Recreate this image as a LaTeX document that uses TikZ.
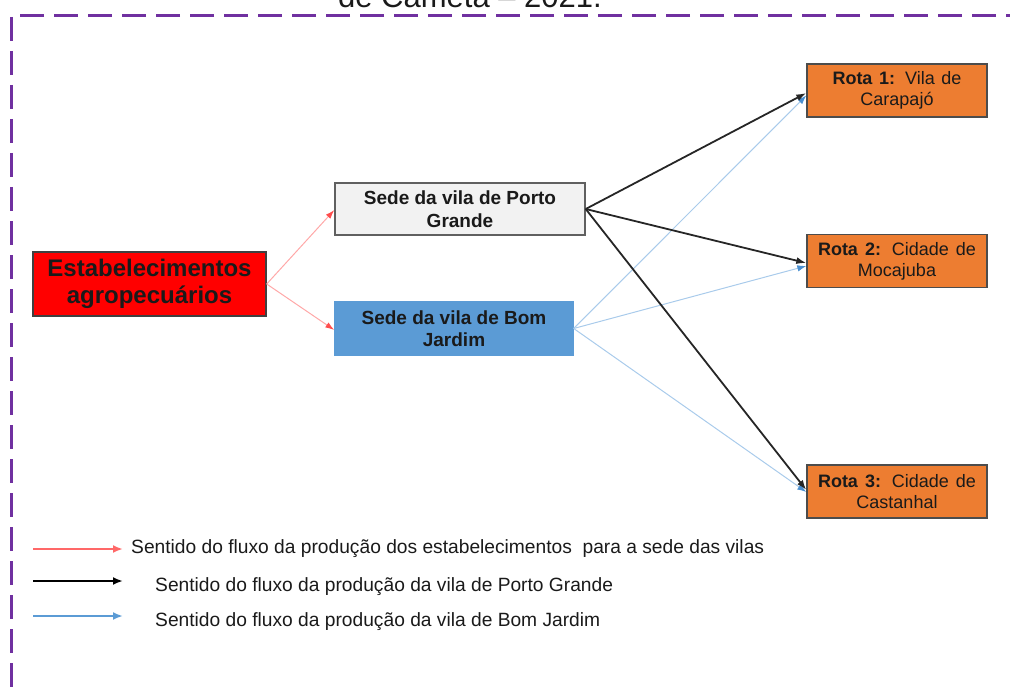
\documentclass[tikz,border=0pt]{standalone}
\usepackage{fontspec}
\setmainfont{Liberation Sans}
\usetikzlibrary{arrows.meta}
\definecolor{purp}{HTML}{7030A0}
\definecolor{boxgray}{HTML}{F2F2F2}
\definecolor{boxblue}{HTML}{5B9BD5}
\definecolor{boxorange}{HTML}{ED7D31}
\definecolor{txt}{HTML}{1A1A1A}
\definecolor{redline}{HTML}{FFA8A8}
\definecolor{redhead}{HTML}{FF4D4D}
\definecolor{blueline}{HTML}{A9CBEB}
\definecolor{bluehead}{HTML}{4A8FD0}
\definecolor{blackline}{HTML}{262626}
\begin{document}
\begin{tikzpicture}[x=1pt,y=-1pt,
  box/.style={draw=#1, line width=1.4pt, inner sep=0pt, align=center, text=txt},
  boxred/.style={box=black!75, fill=red, minimum width=233pt, minimum height=64pt,
     font=\fontsize{24}{27}\selectfont\bfseries},
  boxvila/.style={box=gray!75!black, minimum height=52pt,
     font=\fontsize{19}{22.5}\selectfont\bfseries},
  rota/.style={box=black!70, fill=boxorange, minimum width=180pt, minimum height=53pt,
     font=\fontsize{18}{21}\selectfont},
  redarr/.style={draw=redline, line width=1pt, -{Latex[length=9pt,width=6pt,color=redhead]}},
  blackarr/.style={draw=blackline, line width=1.8pt, -{Latex[length=10pt,width=7pt]}},
  bluearr/.style={draw=blueline, line width=1pt, -{Latex[length=9pt,width=6.5pt,color=bluehead]}},
  legarr/.style={draw=#1, line width=2.2pt, -{Latex[length=10pt,width=8pt]}},
  legtext/.style={anchor=west, inner sep=0pt, text=txt, font=\fontsize{19.2}{22}\selectfont},
]
\useasboundingbox (0,0) rectangle (1010,690);
\clip (0,0) rectangle (1010,690);

% title (cut off at the top)
\node[anchor=base, inner sep=0pt, font=\fontsize{31}{34}\selectfont, text=txt] (title) at (470,8) {de Cametá – 2021.};

% dashed frame
\draw[purp, line width=3pt, dash pattern=on 24pt off 10pt] (1030,16) -- (11,16) -- (11,700);

% nodes
\node[boxred] (est) at (149.5,284) {Estabelecimentos\\agropecuários};
\node[boxvila, fill=boxgray, minimum width=250pt] (porto) at (460,209) {Sede da vila de Porto\\Grande};
\node[boxvila, fill=boxblue, draw=boxblue, minimum width=238pt, minimum height=53pt] (bom) at (454,328.5) {Sede da vila de Bom\\Jardim};
\node[rota] (r1) at (897,90.5) {\makebox[129pt][s]{\textbf{Rota 1:} Vila de}\\Carapajó};
\node[rota] (r2) at (897,261) {\makebox[158pt][s]{\textbf{Rota 2:} Cidade de}\\Mocajuba};
\node[rota] (r3) at (897,491.5) {\makebox[158pt][s]{\textbf{Rota 3:} Cidade de}\\Castanhal};

% connectors
\draw[redarr] (est.east) -- ([yshift=-1pt]porto.west);
\draw[redarr] (est.east) -- ([yshift=-1.5pt]bom.west);

\draw[bluearr] (bom.east) -- ([yshift=-5pt]r1.west);
\draw[bluearr] (bom.east) -- ([yshift=-5pt]r2.west);
\draw[bluearr] (bom.east) -- ([yshift=-0.5pt]r3.west);

\draw[blackarr] (porto.east) -- ([yshift=-2.5pt]r1.west);
\draw[blackarr] (porto.east) -- ([yshift=-2pt]r2.west);
\draw[blackarr] (porto.east) -- ([yshift=1.5pt]r3.west);

% legend
\coordinate (l1a) at (33,549); \coordinate (l1b) at (123,549);
\coordinate (l2a) at (33,581); \coordinate (l2b) at (123,581);
\coordinate (l3a) at (33,616); \coordinate (l3b) at (123,616);
\draw[legarr=redhead!85] (l1a) -- (l1b);
\draw[legarr=black] (l2a) -- (l2b);
\draw[legarr=boxblue] (l3a) -- (l3b);
\node[legtext] (t1) at (131,549) {Sentido do fluxo da produção dos estabelecimentos \ para a sede das vilas};
\node[legtext] (t2) at (155,587) {Sentido do fluxo da produção da vila de Porto Grande};
\node[legtext] (t3) at (155,622) {Sentido do fluxo da produção da vila de Bom Jardim};
\end{tikzpicture}
\end{document}
